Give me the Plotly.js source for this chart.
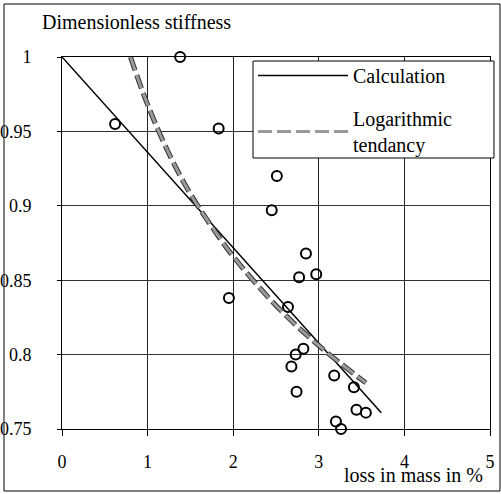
<!DOCTYPE html>
<html>
<head>
<meta charset="utf-8">
<script src="https://cdn.plot.ly/plotly-3.0.1.min.js"></script>
<style>
html,body{margin:0;padding:0;background:#fff;}
#chart{width:501px;height:494px;}
#chart text{font-family:"Liberation Serif", serif !important;}
</style>
</head>
<body>
<div id="chart"></div>
<script>
// Measured points (loss in mass %, dimensionless stiffness)
var lossMass = [1.38, 0.62, 1.83, 2.51, 2.45, 2.85, 2.97, 2.77, 1.95, 2.64, 2.82, 2.73, 2.68, 3.18, 3.41, 2.74, 3.44, 3.55, 3.20, 3.26];
var stiffness = [1.000, 0.955, 0.952, 0.920, 0.897, 0.868, 0.854, 0.852, 0.838, 0.832, 0.804, 0.800, 0.792, 0.786, 0.778, 0.775, 0.763, 0.761, 0.755, 0.750];
// Calculation line
var calcX = [0, 3.73];
var calcY = [1.0, 0.761];
// Logarithmic tendency
var trendX = [0.80, 1.0, 1.25, 1.5, 1.75, 2.0, 2.5, 3.0, 3.55];
var trendY = [1.000, 0.968, 0.935, 0.908, 0.886, 0.866, 0.833, 0.806, 0.781];
// Axis ticks
var xTicks = [0, 1, 2, 3, 4, 5];
var yTicks = [0.75, 0.8, 0.85, 0.9, 0.95, 1];
var yTickText = ['0.75', '0.8', '0.85', '0.9', '0.95', '1'];

var fontName = 'Liberation Serif';

var traces = [
  {x: lossMass, y: stiffness, type: 'scatter', mode: 'markers', showlegend: false,
   marker: {symbol: 'circle-open', size: 10, color: '#000', line: {width: 2, color: '#000'}},
   cliponaxis: false},
  {x: calcX, y: calcY, type: 'scatter', mode: 'lines', name: 'Calculation', legendgroup: 'a',
   line: {color: '#000', width: 1.5}},
  {x: trendX, y: trendY, type: 'scatter', mode: 'lines', showlegend: false, legendgroup: 'b',
   line: {color: '#333', width: 5, dash: '14px,5px', shape: 'spline'}},
  {x: trendX, y: trendY, type: 'scatter', mode: 'lines', name: 'Logarithmic<br>tendancy', legendgroup: 'b',
   line: {color: '#9a9a9a', width: 3, dash: '14px,5px', shape: 'spline'}}
];

var layout = {
  width: 501, height: 494,
  margin: {l: 62, r: 11, t: 57, b: 65},
  paper_bgcolor: '#fff', plot_bgcolor: '#fff',
  font: {family: fontName, color: '#000', size: 18},
  xaxis: {range: [0, 5], tickvals: xTicks, ticktext: xTicks.map(String),
    showgrid: true, gridcolor: '#222', gridwidth: 1, zeroline: false,
    showline: true, linecolor: '#000', linewidth: 1, mirror: true,
    ticks: 'outside', ticklen: 6, tickcolor: '#000', ticklabelstandoff: 10,
    tickfont: {family: fontName, size: 18, color: '#000'}},
  yaxis: {range: [0.75, 1], tickvals: yTicks, ticktext: yTickText,
    showgrid: true, gridcolor: '#333', gridwidth: 1, zeroline: false,
    showline: true, linecolor: '#000', linewidth: 1, mirror: true,
    ticks: 'outside', ticklen: 4, tickcolor: '#000', ticklabelstandoff: 22,
    tickfont: {family: fontName, size: 18, color: '#000'}},
  legend: {x: 0.4463, y: 1.0027, xanchor: 'left', yanchor: 'top',
    bgcolor: 'rgba(0,0,0,0)', borderwidth: 0,
    font: {family: fontName, size: 20, color: '#000'},
    itemwidth: 90, tracegroupgap: 14, traceorder: 'grouped'},
  annotations: [
    {text: 'Dimensionless stiffness', xref: 'paper', yref: 'paper', x: -0.0514, y: 1.094,
     xanchor: 'left', yanchor: 'middle', showarrow: false, font: {family: fontName, size: 20, color: '#000'}},
    {text: 'loss in mass in %', xref: 'paper', yref: 'paper', x: 0.988, y: -0.1237,
     xanchor: 'right', yanchor: 'middle', showarrow: false, font: {family: fontName, size: 20, color: '#000'}}
  ],
  shapes: [
    {type: 'rect', xref: 'paper', yref: 'paper', x0: -0.1355, x1: 1.0234, y0: -0.1667, y1: 1.1425,
     line: {color: '#000', width: 1}, fillcolor: 'rgba(0,0,0,0)', layer: 'below'},
    {type: 'rect', xref: 'paper', yref: 'paper', x0: 0.4463, x1: 1.0093, y0: 0.7285, y1: 0.9892,
     line: {color: '#000', width: 1}, fillcolor: '#fff', layer: 'above'}
  ]
};

Plotly.newPlot('chart', traces, layout, {staticPlot: true});
</script>
</body>
</html>
